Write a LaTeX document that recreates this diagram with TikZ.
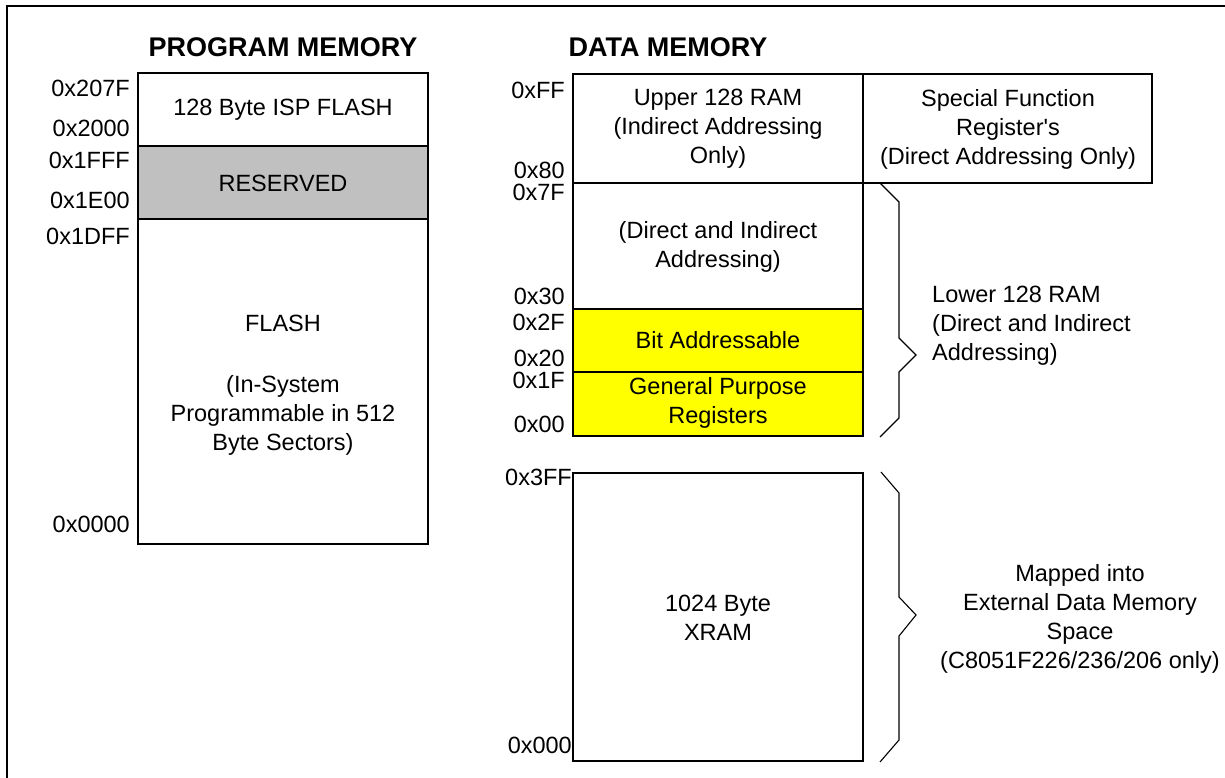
\documentclass[tikz,border=0pt]{standalone}
\usepackage{fontspec}
\setmainfont{Liberation Sans}
\definecolor{resgray}{RGB}{192,192,192}
\definecolor{bityellow}{RGB}{255,255,0}
\tikzset{
  membox/.style={draw, line width=1.6pt},
  addr/.style={anchor=east, inner sep=0pt, font=\fontsize{23.5}{29}\selectfont},
  lbl/.style={align=center, inner sep=0pt, font=\fontsize{23.5}{29}\selectfont},
  head/.style={inner sep=0pt, font=\fontsize{27}{32}\selectfont\bfseries},
  bracket/.style={line width=1.1pt}
}
\begin{document}
\begin{tikzpicture}[x=1pt, y=-1pt]
    \useasboundingbox (0,0) rectangle (1225,778);
    % outer frame
    \draw[line width=1.6pt] (7,778) -- (7,6) -- (1225,6);

    % program memory
    \node[head] (proghead) at (283,47) {PROGRAM MEMORY};
    \fill[resgray] (138,146) rectangle (428,219);
    \draw[membox] (138,73) rectangle (428,544);
    \draw[membox] (138,146) -- (428,146);
    \draw[membox] (138,219) -- (428,219);
    \node[lbl] (isp) at (283,110) {128 Byte ISP FLASH};
    \node[lbl] (reserved) at (283,183) {RESERVED};
    \node[lbl] (flash) at (283,323) {FLASH};
    \node[lbl] (flashnote) at (283,415) {(In-System\\Programmable in 512\\Byte Sectors)};
    \node[addr] (p207F) at (130,88) {0x207F};
    \node[addr] (p2000) at (130,128) {0x2000};
    \node[addr] (p1FFF) at (130,160) {0x1FFF};
    \node[addr] (p1E00) at (130,200) {0x1E00};
    \node[addr] (p1DFF) at (130,236) {0x1DFF};
    \node[addr] (p0000) at (130,524) {0x0000};

    % data memory
    \node[head] (datahead) at (668,47) {DATA MEMORY};
    \fill[bityellow] (573,309) rectangle (863,436);
    \draw[membox] (573,74) rectangle (863,436);
    \draw[membox] (863,74) -- (1152,74) -- (1152,183) -- (863,183);
    \draw[membox] (573,183) -- (863,183);
    \draw[membox] (573,309) -- (863,309);
    \draw[membox] (573,372) -- (863,372);
    \node[lbl] (upper) at (718,129) {Upper 128 RAM\\(Indirect Addressing\\Only)};
    \node[lbl] (sfr) at (1008,129) {Special Function\\Register\textquotesingle s\\(Direct Addressing Only)};
    \node[lbl] (direct) at (718,247) {(Direct and Indirect\\Addressing)};
    \node[lbl] (bitaddr) at (718,340) {Bit Addressable};
    \node[lbl] (gpr) at (718,403) {General Purpose\\Registers};
    \node[addr] (dFF) at (565,90) {0xFF};
    \node[addr] (d80) at (565,170) {0x80};
    \node[addr] (d7F) at (565,192) {0x7F};
    \node[addr] (d30) at (565,296) {0x30};
    \node[addr] (d2F) at (565,322) {0x2F};
    \node[addr] (d20) at (565,358) {0x20};
    \node[addr] (d1F) at (565,380) {0x1F};
    \node[addr] (d00) at (565,424) {0x00};

    % lower 128 bracket
    \draw[bracket] (880,183) -- (899,202) -- (899,338) -- (916,355) -- (899,372) -- (899,418) -- (880,437);
    \node[lbl, anchor=west, align=left] (lower) at (932,326) {Lower 128 RAM\\(Direct and Indirect\\Addressing)};

    % xram
    \draw[membox] (573,473) rectangle (863,761);
    \node[lbl] (xram) at (718,618) {1024 Byte\\XRAM};
    \node[addr] (x3FF) at (572,477) {0x3FF};
    \node[addr] (x000) at (572,745) {0x000};
    \draw[bracket] (881,472) -- (899,493) -- (899,597) -- (916,615) -- (899,636) -- (899,740) -- (880,762);
    \node[lbl] (mapped) at (1080,619) {Mapped into\\External Data Memory\\Space\\(C8051F226/236/206 only)};
\end{tikzpicture}
\end{document}
